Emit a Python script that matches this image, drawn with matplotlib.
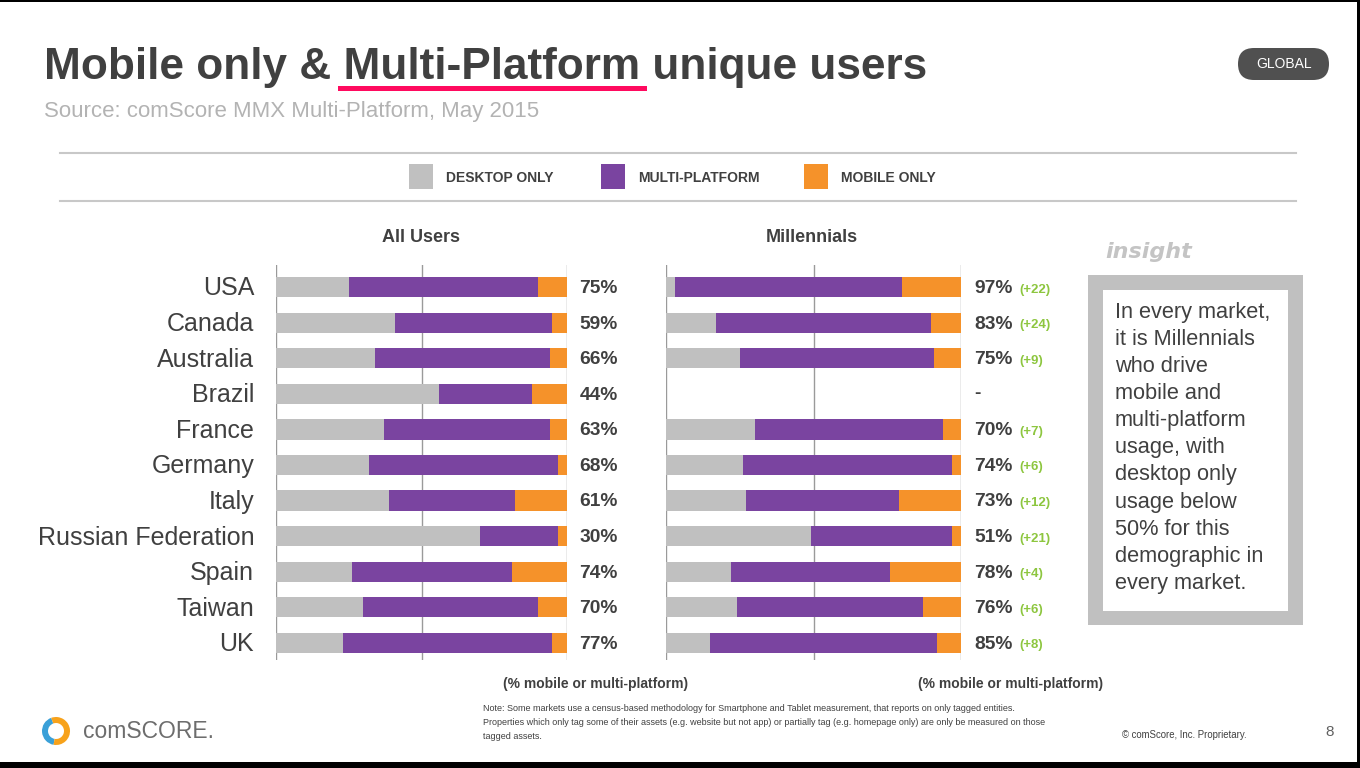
import numpy as np
import matplotlib
matplotlib.use("Agg")
import matplotlib.pyplot as plt
from matplotlib.patches import Rectangle, FancyBboxPatch, Wedge

plt.rcParams['font.family'] = ['Liberation Sans', 'DejaVu Sans']

# data (percent of users)
countries = ["USA", "Canada", "Australia", "Brazil", "France", "Germany",
             "Italy", "Russian Federation", "Spain", "Taiwan", "UK"]
all_desktop = [25, 41, 34, 56, 37, 32, 39, 70, 26, 30, 23]
all_multi = [65, 54, 60, 32, 57, 65, 43, 27, 55, 60, 72]
all_mobile = [10, 5, 6, 12, 6, 3, 18, 3, 19, 10, 5]
mil_desktop = [3, 17, 25, None, 30, 26, 27, 49, 22, 24, 15]
mil_multi = [77, 73, 66, None, 64, 71, 52, 48, 54, 63, 77]
mil_mobile = [20, 10, 9, None, 6, 3, 21, 3, 24, 13, 8]

series_names = ["DESKTOP ONLY", "MULTI-PLATFORM", "MOBILE ONLY"]
c_desk = "#c0c0c0"
c_multi = "#7a44a0"
c_mob = "#f5922a"
c_text = "#404040"
c_green = "#8dc63f"

W, H = 1360, 768
fig = plt.figure(figsize=(W / 100, H / 100), dpi=100)

# background axes in pixel coordinates for the slide furniture
bg = fig.add_axes([0, 0, 1, 1])
bg.set_xlim(0, W)
bg.set_ylim(H, 0)
bg.axis("off")


def px_axes(x0, y0, x1, y1):
    return fig.add_axes([x0 / W, 1 - y1 / H, (x1 - x0) / W, (y1 - y0) / H])


# title block
bg.text(44, 68, "Mobile only & Multi-Platform unique users", fontsize=31.8,
        fontweight="bold", color=c_text, va="center", ha="left")
bg.add_patch(Rectangle((338, 86), 309, 5, color="#ff0a5f", lw=0))
bg.text(44, 111, "Source: comScore MMX Multi-Platform, May 2015", fontsize=16,
        color="#b3b3b3", va="center", ha="left")
bg.add_patch(FancyBboxPatch((1238, 48), 91, 32, boxstyle="round,pad=0,rounding_size=16",
                            fc="#505050", ec="none"))
bg.text(1284, 64, "GLOBAL", fontsize=10, color="white", ha="center", va="center")

# legend strip
bg.plot([60, 1296], [153, 153], color="#c8c8c8", lw=1.5)
bg.plot([60, 1296], [201, 201], color="#c8c8c8", lw=1.5)
leg_x = [409, 601, 804]
for x, name, col in zip(leg_x, series_names, [c_desk, c_multi, c_mob]):
    bg.add_patch(Rectangle((x, 164), 24, 25, color=col, lw=0))
    bg.text(x + 37, 178, name, fontsize=10, fontweight="bold", color=c_text,
            ha="left", va="center")

bg.text(421, 237, "All Users", fontsize=13, fontweight="bold", color=c_text,
        ha="center", va="center")
bg.text(812, 237, "Millennials", fontsize=13, fontweight="bold", color=c_text,
        ha="center", va="center")


def draw_panel(ax, desk, multi, mob, with_names):
    ax.set_xlim(0, 100)
    ax.set_ylim(len(countries) - 0.52, -0.62)
    for gx in (0, 50, 100):
        ax.axvline(gx, color="#9a9a9a", lw=1, zorder=0)
    for i in range(len(countries)):
        if desk[i] is None:
            continue
        ax.barh(i, desk[i], height=0.57, color=c_desk, zorder=2)
        ax.barh(i, multi[i], left=desk[i], height=0.57, color=c_multi, zorder=2)
        ax.barh(i, mob[i], left=desk[i] + multi[i], height=0.57, color=c_mob, zorder=2)
    ax.axis("off")
    if with_names:
        for i, name in enumerate(countries):
            ax.text(-7.5, i + 0.04, name, fontsize=18, color=c_text, ha="right",
                    va="center", clip_on=False)


ax1 = px_axes(276, 265, 567, 660)
draw_panel(ax1, all_desktop, all_multi, all_mobile, True)
all_total = [m + o for m, o in zip(all_multi, all_mobile)]
for i, t in enumerate(all_total):
    ax1.text(104.3, i + 0.04, f"{t}%", fontsize=13.8, fontweight="bold", color=c_text,
             ha="left", va="center", clip_on=False)

ax2 = px_axes(666, 265, 961, 660)
draw_panel(ax2, mil_desktop, mil_multi, mil_mobile, False)
for i in range(len(countries)):
    if mil_multi[i] is None:
        ax2.text(104.5, i, "-", fontsize=13.8, fontweight="bold", color=c_text,
                 ha="left", va="center", clip_on=False)
        continue
    t = mil_multi[i] + mil_mobile[i]
    ax2.text(104.5, i + 0.04, f"{t}%", fontsize=13.8, fontweight="bold", color=c_text,
             ha="left", va="center", clip_on=False)
    ax2.text(119.8, i + 0.07, f"(+{t - all_total[i]})", fontsize=9.5, fontweight="bold",
             color=c_green, ha="left", va="center", clip_on=False)

bg.text(596, 684, "(% mobile or multi-platform)", fontsize=10, fontweight="bold",
        color=c_text, ha="center", va="center")
bg.text(1011, 684, "(% mobile or multi-platform)", fontsize=10, fontweight="bold",
        color=c_text, ha="center", va="center")

# insight box
bg.text(1105, 252, "insight", fontsize=16, fontweight="heavy", style="italic",
        color="#c4c4c4", ha="left", va="center", family=["DejaVu Sans"])
bg.add_patch(Rectangle((1088, 275), 215, 350, color="#c0c0c0", lw=0))
bg.add_patch(Rectangle((1103, 290), 185, 321, color="white", lw=0))
insight = ("In every market,\nit is Millennials\nwho drive\nmobile and\nmulti-platform\n"
           "usage, with\ndesktop only\nusage below\n50% for this\ndemographic in\nevery market.")
bg.text(1115, 302, insight, fontsize=15.7, color=c_text, ha="left", va="top",
        linespacing=1.38)

# footer
note = ("Note: Some markets use a census-based methodology for Smartphone and Tablet "
        "measurement, that reports on only tagged entities.\nProperties which only tag some "
        "of their assets (e.g. website but not app) or partially tag (e.g. homepage only) "
        "are only be measured on those\ntagged assets.")
bg.text(483, 704, note, fontsize=6.45, color=c_text, ha="left", va="top", linespacing=1.7)
bg.text(1122, 735, "\u00a9 comScore, Inc. Proprietary.", fontsize=6.9, color=c_text,
        ha="left", va="center")
bg.text(1330, 732, "8", fontsize=11, color="#606060", ha="center", va="center")

# comScore logo
bg.add_patch(Wedge((56, 731), 14, 100, 250, width=6, color="#3aa0d8", lw=0))
bg.add_patch(Wedge((56, 731), 14, 250, 100, width=6, color="#f7a21b", lw=0))
bg.text(83, 732, "comSCORE.", fontsize=16.5, color="#6d6d6d", ha="left", va="center")

# slide frame
bg.add_patch(Rectangle((0, 0), W, 2, color="black", lw=0))
bg.add_patch(Rectangle((0, 762), W, 6, color="black", lw=0))
bg.add_patch(Rectangle((1357, 0), 3, H, color="black", lw=0))

fig.savefig("out.png", dpi=100)
